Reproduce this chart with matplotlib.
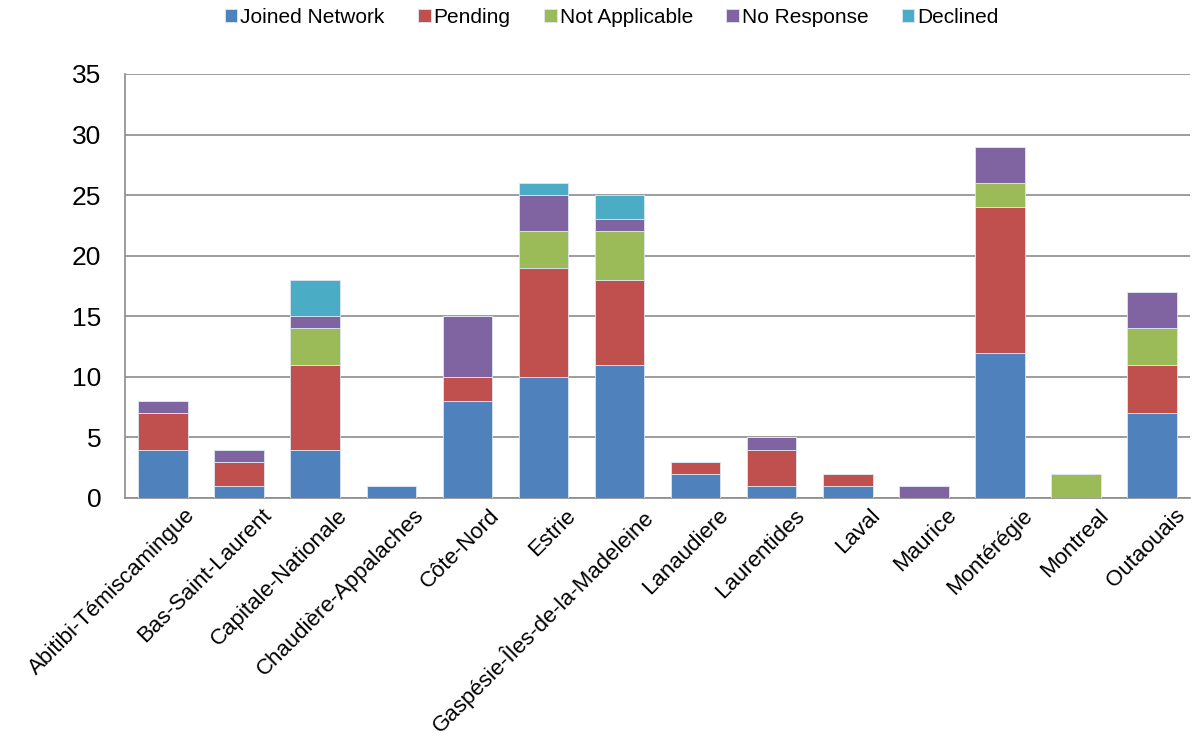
import numpy as np
import matplotlib
matplotlib.use('Agg')
import matplotlib.pyplot as plt
import matplotlib.transforms as mtransforms

plt.rcParams['font.family'] = ['Liberation Sans', 'DejaVu Sans']

regions = ['Abitibi-Témiscamingue', 'Bas-Saint-Laurent', 'Capitale-Nationale',
           'Chaudière-Appalaches', 'Côte-Nord', 'Estrie',
           'Gaspésie-Îles-de-la-Madeleine', 'Lanaudiere', 'Laurentides',
           'Laval', 'Maurice', 'Montérégie', 'Montreal', 'Outaouais']

joined = [4, 1, 4, 1, 8, 10, 11, 2, 1, 1, 0, 12, 0, 7]
pending = [3, 2, 7, 0, 2, 9, 7, 1, 3, 1, 0, 12, 0, 4]
not_applicable = [0, 0, 3, 0, 0, 3, 4, 0, 0, 0, 0, 2, 2, 3]
no_response = [1, 1, 1, 0, 5, 3, 1, 0, 1, 0, 1, 3, 0, 3]
declined = [0, 0, 3, 0, 0, 1, 2, 0, 0, 0, 0, 0, 0, 0]

series = [('Joined Network', joined, '#4F81BD'),
          ('Pending', pending, '#C0504D'),
          ('Not Applicable', not_applicable, '#9BBB59'),
          ('No Response', no_response, '#8064A2'),
          ('Declined', declined, '#4BACC6')]

fig = plt.figure(figsize=(11.95, 7.36), dpi=100)
ax = fig.add_axes([0.1046, 0.3234, 0.8914, 0.5761])

x = np.arange(len(regions))
bottom = np.zeros(len(regions))
for name, vals, col in series:
    vals = np.array(vals)
    ax.bar(x, vals, 0.65, bottom=bottom, color=col, label=name,
           edgecolor='#dde6f0', linewidth=0.6, zorder=3)
    bottom += vals

ax.set_xlim(-0.5, len(regions) - 0.5)
ax.set_ylim(0, 35)
ax.set_yticks(range(0, 36, 5))
ax.yaxis.grid(True, color='#8c8c8c', linewidth=1.2, zorder=0)
ax.tick_params(axis='both', length=0)
ax.tick_params(axis='y', labelsize=19, pad=17)
ax.set_xticks(x)
ax.set_xticklabels(regions, rotation=45, ha='right', rotation_mode='anchor',
                   fontsize=16)
ax.tick_params(axis='x', pad=5)
# push the rotated labels a bit to the right, like the original
shift = mtransforms.ScaledTranslation(22 / 100, 0, fig.dpi_scale_trans)
for lab in ax.get_xticklabels():
    lab.set_transform(lab.get_transform() + shift)

for s in ['top', 'right']:
    ax.spines[s].set_visible(False)
for s in ['left', 'bottom']:
    ax.spines[s].set_color('#8c8c8c')
    ax.spines[s].set_linewidth(1.2)

ax.legend(loc='upper center', bbox_to_anchor=(0.457, 1.2), ncol=5,
          frameon=False, fontsize=15, handlelength=0.6, handleheight=0.6,
          handletextpad=0.15, columnspacing=1.6)

fig.savefig('out.png', dpi=100)
